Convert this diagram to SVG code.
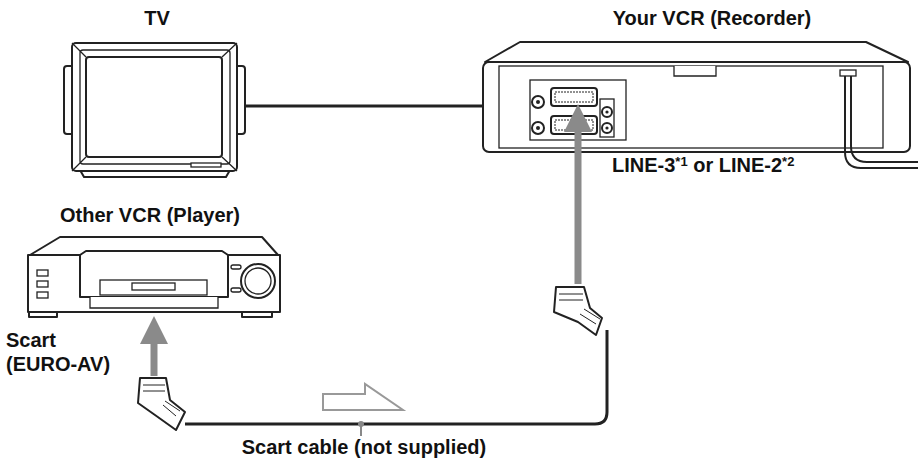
<svg xmlns="http://www.w3.org/2000/svg" width="918" height="462" viewBox="0 0 918 462">
<style>
.l{fill:#fff;stroke:#222;stroke-width:2;stroke-linejoin:round}
.t{fill:#fff;stroke:#222;stroke-width:1.3}
.txt{font-family:"Liberation Sans",Arial,sans-serif;font-weight:bold;font-size:20px;fill:#111}
.g{stroke:#8a8a8a;stroke-width:7;fill:none}
</style>
<defs>
<marker id="ga" markerWidth="4" markerHeight="4" refX="2" refY="2" orient="auto" markerUnits="strokeWidth"><path d="M0,0L4,2L0,4Z" fill="#8a8a8a"/></marker>
</defs>
<rect width="918" height="462" fill="#fff"/>
<g id="tv">
<rect x="64" y="66" width="12" height="68" rx="3" class="l"/>
<rect x="233" y="66" width="12" height="68" rx="3" class="l"/>
<path d="M80,170H230L226,177H84Z" class="l"/>
<rect x="72" y="43" width="165" height="128" rx="4" class="l"/>
<path d="M72,43L86,57M237,43L222,57M72,171L86,157M237,171L222,157" stroke="#222" stroke-width="1.3"/>
<rect x="80" y="50" width="150" height="114" rx="3" fill="none" stroke="#222" stroke-width="1.3"/>
<rect x="86" y="57" width="136" height="100" rx="3" class="l"/>
<rect x="191" y="163" width="30" height="4" class="t"/>
<text x="157" y="25" text-anchor="middle" class="txt" font-size="19">TV</text>
</g>
<g id="recorder">
<path d="M520,42H866L908,62H485Z" class="l"/>
<rect x="483" y="62" width="427" height="90" rx="6" class="l"/>
<rect x="499" y="66" width="384" height="82" class="t"/>
<path d="M674,66V76H716V66" class="t"/>
<rect x="840" y="70" width="16" height="6" class="t"/>
<rect x="530" y="80" width="96" height="60" class="t"/>
<rect x="551" y="88" width="46" height="18" rx="3" class="l"/>
<rect x="555" y="92" width="38" height="10" fill="none" stroke="#222" stroke-width="1" stroke-dasharray="2,1"/>
<rect x="551" y="116" width="46" height="18" rx="3" class="l"/>
<rect x="555" y="120" width="38" height="10" fill="none" stroke="#222" stroke-width="1" stroke-dasharray="2,1"/>
<circle cx="538" cy="102" r="6" class="l"/><circle cx="538" cy="102" r="2" fill="#222"/>
<circle cx="538" cy="128" r="6" class="l"/><circle cx="538" cy="128" r="2" fill="#222"/>
<rect x="600" y="99" width="14" height="38" class="t"/>
<circle cx="607" cy="112" r="5" class="l"/><circle cx="607" cy="112" r="1.6" fill="#222"/>
<circle cx="607" cy="128" r="5" class="l"/><circle cx="607" cy="128" r="1.6" fill="#222"/>
<text x="712" y="25" text-anchor="middle" class="txt" font-size="19">Your VCR (Recorder)</text>
<text x="612" y="172" class="txt" font-size="19">LINE-3<tspan font-size="13" dy="-6">*1</tspan><tspan dy="6"> or LINE-2</tspan><tspan font-size="13" dy="-6">*2</tspan></text>
</g>
<g id="player">
<path d="M60,237H262L278,255H30Z" class="l"/>
<rect x="28" y="255" width="252" height="57" class="l"/>
<rect x="29" y="312" width="28" height="5" class="l"/><rect x="242" y="312" width="30" height="5" class="l"/>
<path d="M80,255L86,251H222L228,255V297H80Z" class="l"/>
<rect x="100" y="280" width="107" height="15" class="t"/>
<rect x="132" y="283" width="43" height="7" class="t"/>
<path d="M90,297V308H218V297" class="t"/>
<rect x="37" y="270" width="11" height="6" class="t"/><rect x="37" y="281" width="11" height="6" class="t"/><rect x="37" y="292" width="11" height="6" class="t"/>
<rect x="231" y="265" width="10" height="4" rx="2" class="t"/><rect x="231" y="288" width="10" height="4" rx="2" class="t"/>
<circle cx="258" cy="281" r="17" class="l"/><circle cx="258" cy="281" r="13" class="t"/>
<text x="150" y="222" text-anchor="middle" class="txt">Other VCR (Player)</text>
<text x="6" y="347" class="txt">Scart</text>
<text x="6" y="371" class="txt">(EURO-AV)</text>
</g>
<g id="connectors">
<path d="M245,106H484" stroke="#222" stroke-width="3" fill="none"/>
<path d="M185,424H595Q607,424 607,412V330" stroke="#222" stroke-width="3" fill="none"/>
<path d="M578,284V118" class="g" marker-end="url(#ga)"/>
<path d="M154,376V330" class="g" marker-end="url(#ga)"/>
<path d="M323,394H365V384L403,410H323Z" fill="none" stroke="#999" stroke-width="2"/>
<path d="M361,424V436" stroke="#888" stroke-width="2"/>
<circle cx="361" cy="424" r="3" fill="#888"/>
<path d="M845,76V152Q845,168 861,168H918M851,76V146Q851,162 867,162H918" fill="none" stroke="#222" stroke-width="2"/>
</g>
<g id="plug-left">
<path d="M140,378H166L170,400L185,412L176,430L155,415L138,403Z" class="l"/>
<path d="M143,385H165M143,391H165M163,405L176,416M165,401L180,411" stroke="#222" stroke-width="1"/>
</g>
<g id="plug-right">
<path d="M556,287H584L590,308L602,318L596,335L578,322L554,312Z" class="l"/>
<path d="M559,294H583M559,300H583M580,314L596,324M584,309L600,319" stroke="#222" stroke-width="1"/>
</g>
<g id="cable-label">
<text x="364" y="454" text-anchor="middle" class="txt">Scart cable (not supplied)</text>
</g>
</svg>
